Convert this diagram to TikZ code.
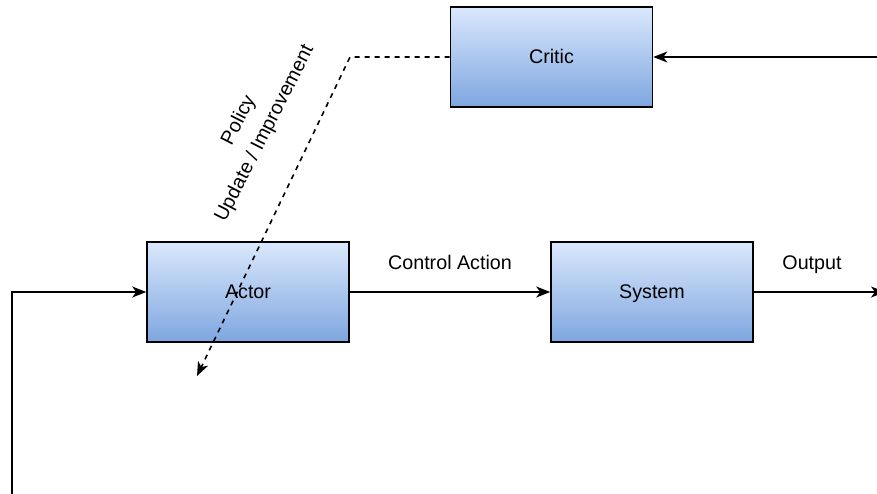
\documentclass[tikz,border=0pt]{standalone}
\usepackage{fontspec}
\setmainfont{Liberation Sans}
\usetikzlibrary{arrows.meta}
\definecolor{gradtop}{HTML}{DAE8FC}
\definecolor{gradbot}{HTML}{7EA6E0}
\tikzset{
  block/.style={draw=black, line width=1.6pt, minimum width=202pt, minimum height=100pt,
    top color=gradtop, bottom color=gradbot, inner sep=0pt,
    text height=14.2pt, text depth=2.2pt,
    font=\fontsize{19.7}{23}\selectfont},
  lbl/.style={font=\fontsize{19.7}{24}\selectfont, inner sep=0pt,
    text height=14.2pt, text depth=2.2pt},
  rotlbl/.style={font=\fontsize{19.7}{29}\selectfont, inner sep=0pt, align=center},
  conn/.style={line width=1.6pt, -{Stealth[length=14pt,width=11pt,inset=4pt]}},
  dashconn/.style={conn, dash pattern=on 5pt off 5pt}
}
\begin{document}
\begin{tikzpicture}[x=1pt, y=-1pt]
  \clip (0,0) rectangle (877,493);

  % blocks
  \node[block] (critic) at (551.5,57) {Critic};
  \node[block] (actor)  at (248,292)  {Actor};
  \node[block] (system) at (652,292)  {System};

  % loose ends of the open connectors
  \coordinate (inR)   at (880,57);
  \coordinate (outR)  at (885,292);
  \coordinate (bend)  at (350,57);
  \coordinate (tipP)  at (197,376);
  \coordinate (fbBot) at (12,500);
  \coordinate (fbTop) at (12,292);

  % signal flow
  \draw[conn] (inR) -- (critic.east);
  \draw[conn] (actor.east) -- (system.west);
  \draw[conn] (system.east) -- (outR);
  \draw[conn] (fbBot) -- (fbTop) -- (actor.west);
  \draw[dashconn] (critic.west) -- (bend) -- (tipP);

  % labels
  \node[lbl] (lca) at (450,263) {Control Action};
  \node[lbl] (lout) at (812,263) {Output};
  \node[rotlbl, rotate=63] (lpol) at (252,127) {Policy\\Update / Improvement};
\end{tikzpicture}
\end{document}
